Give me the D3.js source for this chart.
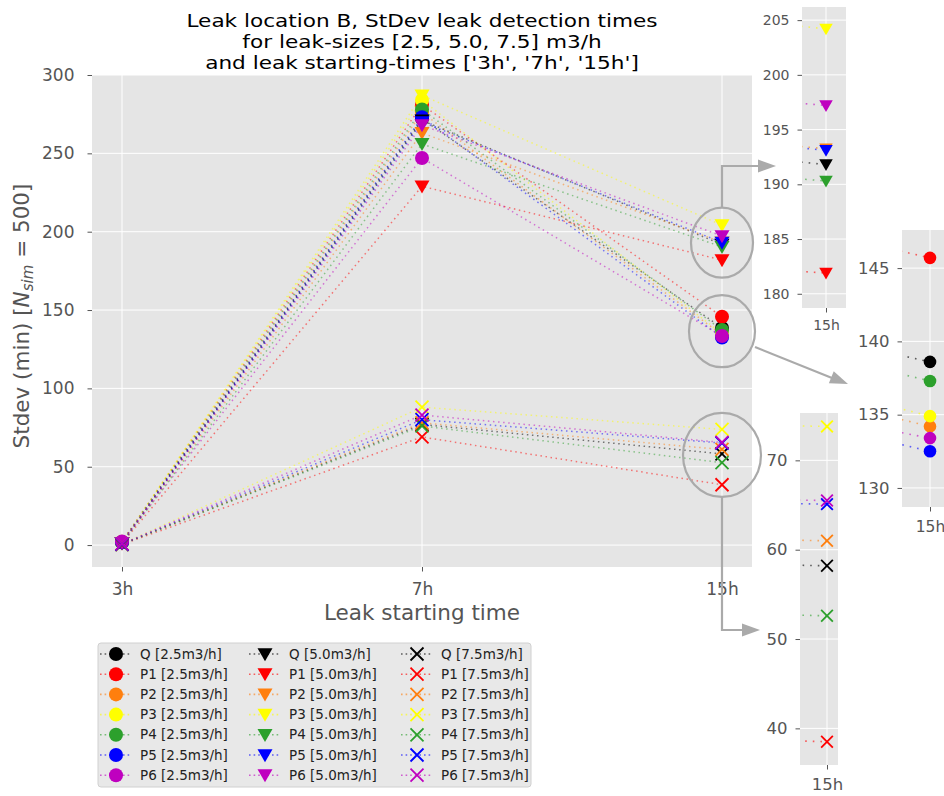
<!DOCTYPE html>
<html>
<head>
<meta charset="utf-8">
<script src="https://cdn.jsdelivr.net/npm/d3@7"></script>
<style>
  body { margin: 0; background: #fff; }
  svg { font-family: "DejaVu Sans", sans-serif; }
</style>
</head>
<body>
<svg id="chart" width="944" height="796"></svg>
<script>
const times = ['3h', '7h', '15h'];
const sensors = ['Q', 'P1', 'P2', 'P3', 'P4', 'P5', 'P6'];
const sensorColors = ['#000000', '#ff0000', '#ff7f0e', '#ffff00', '#2ca02c', '#0000ff', '#bf00bf'];
const leakSizes = ['2.5', '5.0', '7.5'];
const markerTypes = ['circle', 'triangle', 'x'];

// stdev (min) per sensor, at 3h / 7h / 15h
const std25 = [[1.8, 272, 138.6], [2.0, 281, 145.7], [1.9, 276, 134.2], [2.1, 284, 134.9], [1.8, 278, 137.3], [2.0, 273, 132.5], [2.2, 247, 133.4]];
const std50 = [[1.2, 271, 191.8], [1.1, 229, 181.9], [1.3, 263, 193.25], [1.4, 287, 204.2], [1.2, 256, 190.3], [1.3, 270, 193.1], [1.4, 268, 197.2]];
const std75 = [[0.5, 77, 58.2], [0.4, 69, 38.5], [0.6, 78, 61.0], [0.7, 88, 73.8], [0.5, 76, 52.6], [0.6, 80, 65.1], [0.7, 83, 65.5]];
const allStd = [std25, std50, std75];

const mainTicks = [0, 50, 100, 150, 200, 250, 300];
const inset1Ticks = [180, 185, 190, 195, 200, 205];
const inset2Ticks = [130, 135, 140, 145];
const inset3Ticks = [40, 50, 60, 70];

const svg = d3.select('#chart');
const bg = '#e5e5e5', grey = '#555555', annot = '#aaaaaa';

function drawMarker(g, type, color, x, y, s) {
  s = s || 1;
  if (type === 'circle') {
    g.append('circle').attr('cx', x).attr('cy', y).attr('r', 7 * s).attr('fill', color);
  } else if (type === 'triangle') {
    const w = 7.5 * s, h = 13 * s;
    g.append('path')
      .attr('d', `M${x - w},${y - h * 0.45}L${x + w},${y - h * 0.45}L${x},${y + h * 0.55}Z`)
      .attr('fill', color);
  } else {
    const d = 6.5 * s;
    g.append('path')
      .attr('d', `M${x - d},${y - d}L${x + d},${y + d}M${x - d},${y + d}L${x + d},${y - d}`)
      .attr('stroke', color).attr('stroke-width', 1.8).attr('fill', 'none');
  }
}

// ---------- main axes ----------
const x = d3.scaleLinear().domain([-0.1, 2.1]).range([92, 752]);
const y = d3.scaleLinear().domain([-14, 300]).range([567, 75]);

svg.append('rect').attr('x', 92).attr('y', 75).attr('width', 660).attr('height', 492).attr('fill', bg);
svg.append('clipPath').attr('id', 'clipMain')
  .append('rect').attr('x', 92).attr('y', 75).attr('width', 660).attr('height', 492);

const grid = svg.append('g').attr('stroke', '#fff').attr('stroke-width', 1);
mainTicks.forEach(t => grid.append('line').attr('x1', 92).attr('x2', 752).attr('y1', y(t)).attr('y2', y(t)));
times.forEach((t, i) => grid.append('line').attr('x1', x(i)).attr('x2', x(i)).attr('y1', 75).attr('y2', 567));

const yAxis = svg.append('g').attr('transform', 'translate(92,0)')
  .call(d3.axisLeft(y).tickValues(mainTicks).tickSize(4.5).tickPadding(13));
const xAxis = svg.append('g').attr('transform', 'translate(0,567)')
  .call(d3.axisBottom(x).tickValues([0, 1, 2]).tickFormat(i => times[i]).tickSize(4.5).tickPadding(11));
[yAxis, xAxis].forEach(a => {
  a.select('.domain').remove();
  a.selectAll('line').attr('stroke', grey);
  a.selectAll('text').attr('fill', grey).attr('font-size', 17).attr('font-family', 'DejaVu Sans');
});

const line = d3.line().x((d, i) => x(i)).y(d => y(d));
const plotG = svg.append('g').attr('clip-path', 'url(#clipMain)');
allStd.forEach((series, k) => {
  series.forEach((vals, j) => {
    plotG.append('path').attr('d', line(vals)).attr('fill', 'none')
      .attr('stroke', sensorColors[j]).attr('stroke-width', 1.5)
      .attr('stroke-dasharray', '1.5,3.6').attr('opacity', 0.5);
  });
});
allStd.forEach((series, k) => {
  series.forEach((vals, j) => {
    vals.forEach((v, i) => drawMarker(plotG, markerTypes[k], sensorColors[j], x(i), y(v)));
  });
});

svg.append('text').attr('x', 422).attr('y', 620).attr('text-anchor', 'middle')
  .attr('font-size', 21.5).attr('fill', grey).text('Leak starting time');

const yl = svg.append('text').attr('transform', 'translate(29,316) rotate(-90)')
  .attr('text-anchor', 'middle').attr('font-size', 21.5).attr('fill', grey);
yl.append('tspan').text('Stdev (min) [');
yl.append('tspan').attr('font-style', 'italic').text('N');
yl.append('tspan').attr('font-style', 'italic').attr('font-size', 15).attr('dy', 4).text('sim');
yl.append('tspan').attr('dy', -4).text(' = 500]');

const titleLines = ['Leak location B, StDev leak detection times',
  'for leak-sizes [2.5, 5.0, 7.5] m3/h',
  "and leak starting-times ['3h', '7h', '15h']"];
titleLines.forEach((t, i) => svg.append('text')
  .attr('transform', `translate(422,${27 + i * 21}) scale(1.2,1)`)
  .attr('text-anchor', 'middle').attr('font-size', 18).attr('fill', '#000').text(t));

// ---------- zoom insets ----------
function inset(id, series, type, ticks, dom, px, py, mx, fs, labY) {
  const k = 8700;
  const ix = d3.scaleLinear().domain([2 - (mx - px[0]) / k, 2 + (px[1] - mx) / k]).range(px);
  const iy = d3.scaleLinear().domain(dom).range(py);
  const g = svg.append('g');
  g.append('rect').attr('x', px[0]).attr('y', py[1]).attr('width', px[1] - px[0]).attr('height', py[0] - py[1]).attr('fill', bg);
  svg.append('clipPath').attr('id', id)
    .append('rect').attr('x', px[0]).attr('y', py[1]).attr('width', px[1] - px[0]).attr('height', py[0] - py[1]);
  ticks.forEach(t => g.append('line').attr('x1', px[0]).attr('x2', px[1]).attr('y1', iy(t)).attr('y2', iy(t)).attr('stroke', '#fff'));
  g.append('line').attr('x1', ix(2)).attr('x2', ix(2)).attr('y1', py[1]).attr('y2', py[0]).attr('stroke', '#fff');
  const ay = g.append('g').attr('transform', `translate(${px[0]},0)`)
    .call(d3.axisLeft(iy).tickValues(ticks).tickSize(4.5).tickPadding(8));
  const ax = g.append('g').attr('transform', `translate(0,${py[0]})`)
    .call(d3.axisBottom(ix).tickValues([2]).tickFormat(() => times[2]).tickSize(4.5).tickPadding(labY));
  [ay, ax].forEach(a => {
    a.select('.domain').remove();
    a.selectAll('line').attr('stroke', grey);
    a.selectAll('text').attr('fill', grey).attr('font-size', fs).attr('font-family', 'DejaVu Sans');
  });
  const c = g.append('g').attr('clip-path', `url(#${id})`);
  const il = d3.line().x((d, i) => ix(i)).y(d => iy(d));
  series.forEach((vals, j) => c.append('path').attr('d', il(vals)).attr('fill', 'none')
    .attr('stroke', sensorColors[j]).attr('stroke-width', 1.6)
    .attr('stroke-dasharray', '1.6,6').attr('opacity', 0.6));
  series.forEach((vals, j) => drawMarker(c, type, sensorColors[j], ix(2), iy(vals[2]), 0.9));
  return ax;
}
inset('clip1', std50, 'triangle', inset1Ticks, [178.7, 206.2], [802, 846], [308, 7], 826, 14, 8);
const ax2 = inset('clip2', std25, 'circle', inset2Ticks, [128.7, 147.6], [902, 958], [507, 230], 930, 16.5, 9);
ax2.selectAll('text').attr('font-size', 15.5);
inset('clip3', std75, 'x', inset3Ticks, [35.9, 75.3], [800, 838], [765, 413], 827, 16.5, 9);

// ---------- zoom markers & arrows ----------
const an = svg.append('g').attr('fill', 'none').attr('stroke', annot).attr('stroke-width', 2.2);
an.append('ellipse').attr('cx', x(2)).attr('cy', y(193)).attr('rx', 31).attr('ry', 35);
an.append('ellipse').attr('cx', x(2)).attr('cy', y(136.5)).attr('rx', 33).attr('ry', 36);
an.append('ellipse').attr('cx', x(2)).attr('cy', y(57.5)).attr('rx', 39).attr('ry', 42);
an.append('path').attr('d', `M${x(2)},${y(193) - 35}V166H760`);
an.append('path').attr('d', `M755,347L832,378`);
an.append('path').attr('d', `M${x(2)},${y(57.5) + 42}V630H744`);
function head(tx, ty, ang) {
  const L = 18, W = 6.5;
  const ca = Math.cos(ang), sa = Math.sin(ang);
  const bx = tx - L * ca, by = ty - L * sa;
  svg.append('path').attr('fill', annot)
    .attr('d', `M${tx},${ty}L${bx - W * sa},${by + W * ca}L${bx + W * sa},${by - W * ca}Z`);
}
head(776, 166, 0);
head(848, 384, Math.atan2(31, 77));
head(760, 630, 0);

// ---------- legend ----------
const lg = svg.append('g');
lg.append('rect').attr('x', 98).attr('y', 643).attr('width', 433).attr('height', 144)
  .attr('rx', 3).attr('fill', '#e8e8e8').attr('stroke', '#d0d0d0');
const colX = [116, 265, 417];
leakSizes.forEach((sz, k) => {
  sensors.forEach((s, j) => {
    const cy = 654 + j * 20.2;
    lg.append('line').attr('x1', colX[k] - 16).attr('x2', colX[k] + 16).attr('y1', cy).attr('y2', cy)
      .attr('stroke', sensorColors[j]).attr('stroke-width', 1.6).attr('stroke-dasharray', '1.6,3').attr('opacity', 0.6);
    drawMarker(lg, markerTypes[k], sensorColors[j], colX[k], cy);
    lg.append('text').attr('x', colX[k] + 24).attr('y', cy + 4.5).attr('font-size', 13.5).attr('fill', '#222')
      .text(`${s} [${sz}m3/h]`);
  });
});
</script>
</body>
</html>
